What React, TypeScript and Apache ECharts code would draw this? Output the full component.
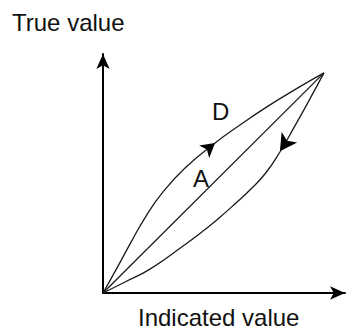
import React, { useEffect, useRef } from "react";
import * as echarts from "echarts";

// Ascending (upper) curve "D" – indicated value vs true value
const upperCurve: number[][] = [
  [0, 0], [5.8, 10.5], [11.6, 21.3], [17.8, 32.2], [24.8, 42.3], [33.9, 52.3],
  [46.3, 62.8], [56.6, 70.3], [68.2, 78.2], [79.8, 85.4], [91.3, 92.1],
];
// Descending (lower) curve
const lowerCurve: number[][] = [
  [0, 0], [9.1, 4.6], [19.4, 10.0], [33.1, 19.7], [41.3, 25.9], [47.5, 31.0],
  [55.4, 38.1], [60.7, 43.1], [66.9, 49.8], [73.1, 59.0], [79.3, 69.9],
  [85.5, 81.2], [91.3, 92.1],
];
// Ideal line "A"
const idealLine: number[][] = [[0, 0], [91.3, 92.1]];
// Direction arrows on the curves: [x, y, rotation]
const upperArrow = [46.3, 62.8, -51];
const lowerArrow = [73.1, 59.3, 146];

const axisTitles = { x: "Indicated value", y: "True value" };
const curveLabels = { d: "D", a: "A" };

const FONT = '"Liberation Sans", Arial, sans-serif';

export default function App() {
  const ref = useRef<HTMLDivElement>(null);
  useEffect(() => {
    if (!ref.current) return;
    const chart = echarts.init(ref.current, null, { renderer: "svg" });
    const lineStyle = { color: "#1a1a1a", width: 1.3 };
    const axisCommon = {
      type: "value" as const,
      min: 0,
      max: 100,
      axisTick: { show: false },
      axisLabel: { show: false },
      splitLine: { show: false },
      axisLine: {
        show: true,
        symbol: ["none", "arrow"],
        symbolSize: [10, 15],
        lineStyle: { color: "#000", width: 2 },
      },
    };
    chart.setOption({
      animation: false,
      backgroundColor: "#fff",
      grid: { left: 103, right: 8, top: 54, bottom: 41 },
      xAxis: axisCommon,
      yAxis: axisCommon,
      series: [
        {
          type: "line",
          data: upperCurve,
          smooth: true,
          showSymbol: false,
          lineStyle,
          markPoint: {
            symbol: "arrow",
            symbolSize: [12, 14],
            itemStyle: { color: "#000" },
            label: { show: false },
            data: [{ coord: [upperArrow[0], upperArrow[1]], symbolRotate: upperArrow[2] }],
          },
        },
        {
          type: "line",
          data: lowerCurve,
          smooth: true,
          showSymbol: false,
          lineStyle,
          markPoint: {
            symbol: "arrow",
            symbolSize: [14, 17],
            itemStyle: { color: "#000" },
            label: { show: false },
            data: [{ coord: [lowerArrow[0], lowerArrow[1]], symbolRotate: lowerArrow[2] }],
          },
        },
        {
          type: "line",
          data: idealLine,
          showSymbol: false,
          lineStyle,
        },
      ],
      graphic: [
        { type: "text", style: { text: axisTitles.y, x: 12, y: 22, verticalAlign: "middle", font: `24px ${FONT}`, fill: "#111" } },
        { type: "text", style: { text: axisTitles.x, x: 138, y: 317, verticalAlign: "middle", font: `24px ${FONT}`, fill: "#111" } },
        { type: "text", style: { text: curveLabels.d, x: 212, y: 111, verticalAlign: "middle", font: `24px ${FONT}`, fill: "#111" } },
        { type: "text", style: { text: curveLabels.a, x: 193, y: 178, verticalAlign: "middle", font: `24px ${FONT}`, fill: "#111" } },
      ],
    });
    return () => chart.dispose();
  }, []);
  return (
    <div
      ref={ref}
      style={{ position: "absolute", left: 0, top: 0, width: 353, height: 334 }}
    />
  );
}
